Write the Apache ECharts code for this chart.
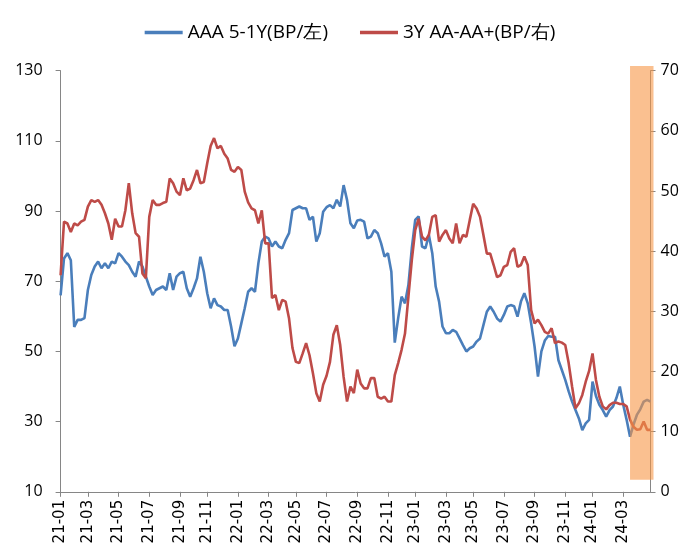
<!DOCTYPE html>
<html>
<head>
<meta charset="utf-8">
<script src="https://cdn.jsdelivr.net/npm/echarts/dist/echarts.min.js"></script>
<style>html,body{margin:0;padding:0;background:#fff;}#chart{width:700px;height:558px;}</style>
</head>
<body>
<div id="chart"></div>
<script>
// Weekly observations (Fridays) starting 2021-01-01
const startDate = '2021-01-01';
const tickLabels = ['21-01','21-03','21-05','21-07','21-09','21-11','22-01','22-03','22-05','22-07','22-09','22-11','23-01','23-03','23-05','23-07','23-09','23-11','24-01','24-03'];
const seriesNames = ['AAA 5-1Y(BP/左)', '3Y AA-AA+(BP/右)'];
// AAA 5-1Y spread, left axis (BP)
const aaa51y = [
66,76.5,78,76,57,59,59,59.5,67.5,71.8,74.2,75.6,73.7,75.1,73.7,75.6,75.1,78,77,75.6,
74.6,72.7,71.3,75.6,74.2,71.3,68.5,66.1,67.5,68,68.5,67.5,72.3,67.5,71.3,72.3,72.7,68,65.6,68,
70.8,77,72.7,66.6,62.3,65.1,63.2,62.8,61.8,61.8,57.1,51.5,53.7,58,62.3,67,68,67,75.1,81.3,
82.7,82.2,79.9,81.3,79.9,79.4,81.8,83.7,90.3,90.8,91.3,90.8,90.8,87.5,88.4,81.3,83.7,89.8,91.1,91.7,
90.8,93.2,91.3,97.4,93.2,86.5,85.1,87.3,87.5,87,82.2,82.7,84.6,83.7,80.8,77,78,72.7,52.5,59.5,
65.6,63.7,68.9,79.4,87.5,88.5,79.9,79.4,83.2,78,68.5,64.2,57.1,55.2,55.2,56.1,55.6,53.7,51.8,50,
50.9,51.4,52.8,53.7,57.5,61.3,62.8,61.3,59.4,58.5,60.4,62.8,63.2,62.9,59.9,64.2,66.6,63.7,58,51.4,
42.8,50,53.1,54.4,54.2,54.2,47.5,44.7,41.9,38.6,35.7,33.3,30.9,27.6,29.5,30.5,41.4,37.3,34.8,33.3,
31.4,33.3,34.3,36.7,40,34.8,30.5,25.7,29.1,31.9,33.5,35.7,36.2,35.7
];
// 3Y AA-AA+ spread, right axis (BP)
const aa3y = [
36,44.9,44.6,43.2,44.6,44.3,44.9,45.2,47.4,48.5,48.2,48.5,47.7,46.3,44.6,41.9,45.4,44.1,44.1,46.8,
51.3,46.3,43,42.4,36.3,35.5,45.7,48.5,47.7,47.7,48,48.2,52.1,51.3,49.9,49.3,52.1,50.1,50.4,51.8,
53.5,51.3,51.5,54.6,57.5,58.8,57.1,57.5,56.2,55.4,53.5,53.2,54,53.5,49.9,48.1,47.1,46.8,44.6,46.8,
41.3,41.3,32.2,32.7,30.2,31.9,31.6,28.8,23.9,21.6,21.4,23,24.7,22.7,19.7,16.4,15,17.8,19.3,21.6,
26.1,27.7,24.4,19.1,15,17.5,16.4,20.3,18,17.2,17.2,18.9,18.9,15.8,15.5,15.8,15,15,19.4,21.4,
23.6,26.3,32.4,38.5,43.5,45.4,42.4,41.8,42.7,45.7,46,41.6,42.7,43.5,42.1,41.3,44.6,41.3,42.7,42.4,
45.2,47.9,47.1,45.7,42.7,39.6,39.6,37.7,35.7,36,37.4,37.7,39.9,40.5,37.4,37.7,39.1,37.7,30.2,28,
28.6,27.7,26.6,26.3,27.2,24.7,25,24.8,24.4,21.4,17.5,13.9,14.7,16.1,18.3,20.1,23,18.6,15.8,14.2,
13.7,14.4,14.8,14.8,14.6,14.6,14.2,12,10.8,10.3,10.4,11.7,10.3,10.3
];
// highlighted window: start week index, end week index, low / high on right axis
const shadeWindow = [[167, 173, 2, 70.8]];

// build weekly category dates
const DAY = 86400000;
const t0 = Date.parse(startDate + 'T00:00:00Z');
const categories = aaa51y.map((_, k) => new Date(t0 + k * 7 * DAY).toISOString().slice(0, 10));
// position of each tick label: week nearest to the first day of that month
const tickMap = new Map();
tickLabels.forEach(lbl => {
  const y = 2000 + parseInt(lbl.slice(0, 2), 10);
  const m = parseInt(lbl.slice(3), 10) - 1;
  const k = Math.round((Date.UTC(y, m, 1) - t0) / (7 * DAY));
  tickMap.set(k, lbl);
});

const axisColor = '#868686';
const chart = echarts.init(document.getElementById('chart'), null, {renderer: 'canvas'});
chart.setOption({
  animation: false,
  backgroundColor: '#fff',
  legend: {
    top: 18,
    left: 'center',
    itemGap: 32,
    icon: 'rect',
    itemWidth: 38,
    itemHeight: 3.5,
    textStyle: {fontFamily: 'Open Sans', fontSize: 19, color: '#000'},
    data: seriesNames
  },
  grid: {left: 60.6, right: 49.5, top: 70.7, bottom: 66.2, containLabel: false},
  xAxis: {
    type: 'category',
    data: categories,
    boundaryGap: false,
    axisLine: {lineStyle: {color: axisColor, width: 1}},
    axisTick: {show: true, interval: (i) => tickMap.has(i), length: 5, lineStyle: {color: axisColor}},
    axisLabel: {
      interval: (i) => tickMap.has(i),
      formatter: (v, i) => tickMap.get(i) || '',
      rotate: 90,
      margin: 8,
      fontFamily: 'DejaVu Sans',
      fontSize: 15,
      color: '#000'
    },
    splitLine: {show: false}
  },
  yAxis: [
    {
      type: 'value', min: 10, max: 130, interval: 20, position: 'left',
      axisLine: {show: true, lineStyle: {color: axisColor}},
      axisTick: {show: true, length: 5, lineStyle: {color: axisColor}},
      axisLabel: {fontFamily: 'Open Sans', fontSize: 16, color: '#000', margin: 18},
      splitLine: {show: false}
    },
    {
      type: 'value', min: 0, max: 70, interval: 10, position: 'right',
      axisLine: {show: true, lineStyle: {color: axisColor}},
      axisTick: {show: true, length: 5, lineStyle: {color: axisColor}},
      axisLabel: {fontFamily: 'Open Sans', fontSize: 16, color: '#000', margin: 10},
      splitLine: {show: false}
    }
  ],
  series: [
    {
      name: seriesNames[0], type: 'line', yAxisIndex: 0, data: aaa51y,
      showSymbol: false, symbol: 'none', z: 2,
      lineStyle: {color: '#4A7EBB', width: 2.6},
      itemStyle: {color: '#4A7EBB'}
    },
    {
      name: seriesNames[1], type: 'line', yAxisIndex: 1, data: aa3y,
      showSymbol: false, symbol: 'none', z: 2,
      lineStyle: {color: '#BE4B48', width: 2.6},
      itemStyle: {color: '#BE4B48'}
    },
    {
      name: 'shade', type: 'custom', yAxisIndex: 1, z: 20, silent: true, clip: false,
      data: shadeWindow,
      encode: {x: [0, 1], y: [2, 3]},
      renderItem: function (params, api) {
        const p1 = api.coord([api.value(0), api.value(3)]);
        const p2 = api.coord([api.value(1), api.value(2)]);
        return {
          type: 'rect',
          shape: {x: p1[0], y: p1[1], width: p2[0] - p1[0] + 3, height: p2[1] - p1[1]},
          style: {fill: 'rgba(247,150,70,0.6)'}
        };
      }
    }
  ]
});
</script>
</body>
</html>
